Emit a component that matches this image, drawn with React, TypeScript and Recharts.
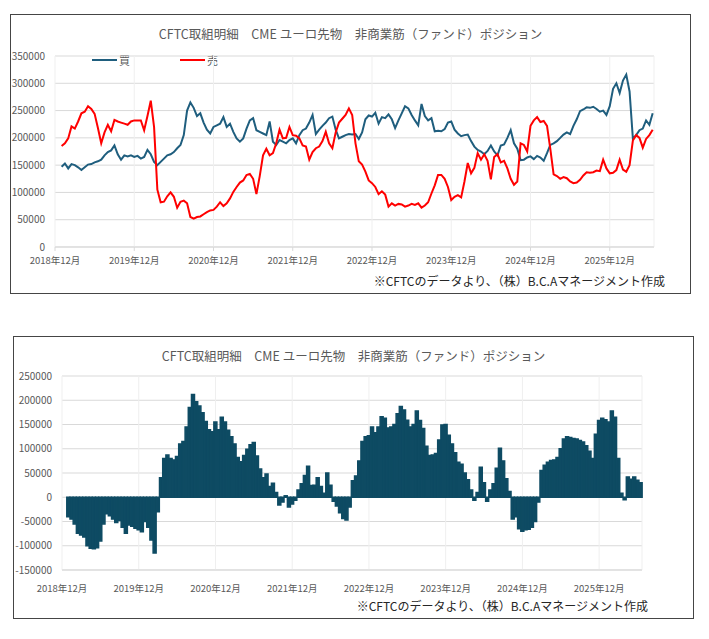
import { LineChart, Line, BarChart, Bar, XAxis, YAxis, CartesianGrid } from "recharts";

// 買 / 売 (thousands of contracts), one value every half month from Jan 2019
const longK = [
  147, 153, 144, 152, 150, 146, 141, 146, 151, 152,
  155, 157, 160, 168, 174, 177, 186, 170, 160, 168,
  166, 168, 165, 167, 162, 165, 178, 170, 156, 150,
  156, 162, 168, 170, 174, 181, 187, 205, 250, 265,
  255, 240, 245, 228, 215, 208, 220, 223, 226, 238,
  220, 226, 211, 199, 193, 199, 217, 232, 236, 214,
  211, 208, 205, 230, 193, 187, 196, 193, 190, 196,
  199, 190, 205, 214, 217, 228, 242, 207, 215, 222,
  228, 236, 239, 215, 199, 202, 205, 207, 206, 207,
  198, 210, 234, 241, 239, 246, 226, 238, 236, 243,
  234, 218, 232, 245, 258, 254, 242, 232, 223, 262,
  240, 232, 236, 212, 213, 212, 216, 228, 230, 215,
  208, 203, 205, 206, 194, 184, 178, 175, 170, 176,
  186, 175, 168, 186, 188, 200, 214, 190, 180, 159,
  160, 164, 166, 161, 167, 164, 158, 172, 187, 190,
  194, 200, 206, 210, 207, 222, 234, 249, 252, 256,
  255, 257, 253, 248, 250, 242, 258, 290, 300, 282,
  305, 316, 285, 199, 205, 214, 217, 232, 224, 245,
];

const shortK = [
  185, 190, 199, 221, 217, 230, 245, 248, 258, 253,
  244, 218, 190, 210, 224, 212, 233, 230, 228, 226,
  224, 230, 232, 232, 232, 214, 240, 268, 220, 105,
  82, 83, 93, 100, 92, 72, 83, 85, 80, 55,
  52, 55, 56, 60, 64, 67, 68, 74, 82, 75,
  80, 89, 101, 110, 118, 122, 132, 134, 125, 97,
  130, 168, 180, 168, 172, 190, 215, 199, 200, 220,
  205, 204, 199, 186, 184, 160, 174, 181, 184, 194,
  211, 190, 181, 210, 228, 235, 242, 254, 242, 190,
  157, 151, 138, 122, 117, 110, 97, 102, 96, 74,
  80, 76, 79, 78, 74, 76, 79, 77, 80, 72,
  76, 82, 98, 113, 132, 132, 125, 110, 86, 92,
  95, 91, 120, 154, 135, 145, 172, 160, 170, 158,
  124, 165, 170, 155, 158, 144, 125, 114, 120, 190,
  187, 175, 222, 232, 238, 229, 231, 222, 180, 133,
  130, 125, 128, 126, 120, 117, 118, 123, 131, 137,
  136, 137, 140, 139, 160, 144, 135, 136, 141, 160,
  142, 138, 150, 195, 205, 200, 182, 198, 205, 215,
];

// net position
const netK = [
  -40, -45, -55, -74, -78, -82, -100, -105, -106, -104,
  -90, -55, -34, -38, -45, -52, -48, -62, -74, -57,
  -60, -64, -67, -71, -50, -62, -88, -115, -30, 40,
  80, 87, 80, 77, 84, 110, 115, 145, 185, 212,
  197, 188, 174, 156, 139, 135, 155, 139, 165, 155,
  138, 125, 110, 82, 73, 86, 99, 108, 113, 85,
  58, 40, 48, 22, 29, 10, -16, -10, 3, -20,
  -14, -6, 15, 28, 45, 64, 24, 25, 40, 22,
  8, 50, 25, -8, -18, -32, -44, -47, -20, 34,
  44, 75, 115, 125, 127, 145, 133, 145, 166, 163,
  143, 145, 150, 172, 187, 180, 159, 145, 150, 178,
  158, 142, 105, 86, 87, 90, 118, 149, 150, 128,
  110, 92, 72, 68, 50, 36, 15, -6, 10, 62,
  30, -8, 15, 28, 60, 101, 75, 38, 12, -45,
  -40, -65, -70, -67, -66, -62, -50, -10, 55, 66,
  72, 76, 77, 82, 100, 120, 125, 123, 121, 120,
  117, 114, 106, 95, 80, 130, 158, 163, 160, 155,
  178, 165, 80, 8, -5, 42, 37, 42, 35, 30,
];

// months after Dec 2018
const months = longK.map((_, i) => 1 + i * 0.5);

const yearTicks = [0, 12, 24, 36, 48, 60, 72, 84];
const yearLabels = [
  "2018年12月", "2019年12月", "2020年12月", "2021年12月",
  "2022年12月", "2023年12月", "2024年12月", "2025年12月",
];
const positionTicks = [0, 50000, 100000, 150000, 200000, 250000, 300000, 350000];
const netTicks = [-150000, -100000, -50000, 0, 50000, 100000, 150000, 200000, 250000];

const TITLE = "CFTC取組明細　CME ユーロ先物　非商業筋（ファンド）ポジション";
const SOURCE = "※CFTCのデータより、（株）B.C.Aマネージメント作成";

const LONG_COLOR = "#1f5e7e";
const SHORT_COLOR = "#ff0000";
const NET_COLOR = "#0e4b63";
const FONT = "'Noto Sans CJK JP', 'Noto Sans', sans-serif";

const lineRows = months.map((m, i) => ({ m, long: longK[i] * 1000, short: shortK[i] * 1000 }));
const netRows = months.map((m, i) => ({ m, net: netK[i] * 1000 }));

const fmtYear = (v: number) => yearLabels[yearTicks.indexOf(v)] ?? "";

const boxStyle: React.CSSProperties = {
  position: "absolute",
  width: 681,
  boxSizing: "border-box",
  border: "1px solid #454545",
  background: "#fff",
};

const titleStyle: React.CSSProperties = {
  position: "absolute",
  left: 0,
  width: "100%",
  textAlign: "center",
  fontSize: 12.5,
  lineHeight: "16px",
  color: "#595959",
  whiteSpace: "nowrap",
};

const sourceStyle: React.CSSProperties = {
  position: "absolute",
  fontSize: 12,
  lineHeight: "16px",
  color: "#262626",
  whiteSpace: "nowrap",
};

const LegendItem = ({ color, label, left }: { color: string; label: string; left: number }) => (
  <div style={{ position: "absolute", left, top: 37, display: "flex", alignItems: "center", fontSize: 11, color: "#595959" }}>
    <span style={{ display: "inline-block", width: 25, height: 2, background: color, marginRight: 2 }} />
    <span>{label}</span>
  </div>
);

const tickStyle = { fill: "#595959", fontSize: 10 };
const xTickStyle = { fill: "#595959", fontSize: 9.5 };

export default function App() {
  return (
    <div style={{ position: "relative", width: 701, height: 631, fontFamily: FONT }}>
      {/* long / short lines */}
      <div style={{ ...boxStyle, left: 2, top: 6, height: 280 }}>
        <div style={{ ...titleStyle, top: 11 }}>{TITLE}</div>
        <LegendItem color={LONG_COLOR} label="買" left={81} />
        <LegendItem color={SHORT_COLOR} label="売" left={169} />
        <LineChart width={679} height={278} data={lineRows} margin={{ top: 41, right: 36, left: 0, bottom: 26 }}>
          <CartesianGrid vertical={false} stroke="#d9d9d9" />
          <CartesianGrid horizontal={false} stroke="#efefef" />
          <XAxis
            dataKey="m"
            type="number"
            domain={[0, 90.7]}
            ticks={yearTicks}
            interval={0}
            tickFormatter={fmtYear}
            height={20}
            axisLine={{ stroke: "#d9d9d9" }}
            tickLine={{ stroke: "#d9d9d9" }}
            tickSize={4}
            tickMargin={6}
            tick={xTickStyle}
          />
          <YAxis
            domain={[0, 350000]}
            ticks={positionTicks}
            interval={0}
            width={44}
            axisLine={false}
            tickLine={false}
            tickMargin={4}
            tick={tickStyle}
          />
          <Line type="linear" dataKey="long" stroke={LONG_COLOR} strokeWidth={2} dot={false} isAnimationActive={false} />
          <Line type="linear" dataKey="short" stroke={SHORT_COLOR} strokeWidth={2} dot={false} isAnimationActive={false} />
        </LineChart>
        <div style={{ ...sourceStyle, right: 25, top: 258 }}>{SOURCE}</div>
      </div>

      {/* net position bars */}
      <div style={{ ...boxStyle, left: 5, top: 328, height: 283 }}>
        <div style={{ ...titleStyle, top: 11 }}>{TITLE}</div>
        <BarChart
          width={679}
          height={281}
          data={netRows}
          barCategoryGap={0}
          barGap={0}
          margin={{ top: 39, right: 51, left: 0, bottom: 28 }}
        >
          <CartesianGrid vertical={false} stroke="#d9d9d9" />
          <CartesianGrid horizontal={false} stroke="#efefef" />
          <XAxis
            dataKey="m"
            type="number"
            domain={[0, 90.7]}
            ticks={yearTicks}
            interval={0}
            tickFormatter={fmtYear}
            height={20}
            axisLine={{ stroke: "#d9d9d9" }}
            tickLine={false}
            tickMargin={9}
            tick={xTickStyle}
          />
          <YAxis
            domain={[-150000, 250000]}
            ticks={netTicks}
            interval={0}
            width={48}
            axisLine={false}
            tickLine={false}
            tickMargin={4}
            tick={tickStyle}
          />
          <Bar dataKey="net" fill={NET_COLOR} stroke={NET_COLOR} strokeWidth={1.5} isAnimationActive={false} />
        </BarChart>
        <div style={{ ...sourceStyle, right: 45, top: 261 }}>{SOURCE}</div>
      </div>
    </div>
  );
}
